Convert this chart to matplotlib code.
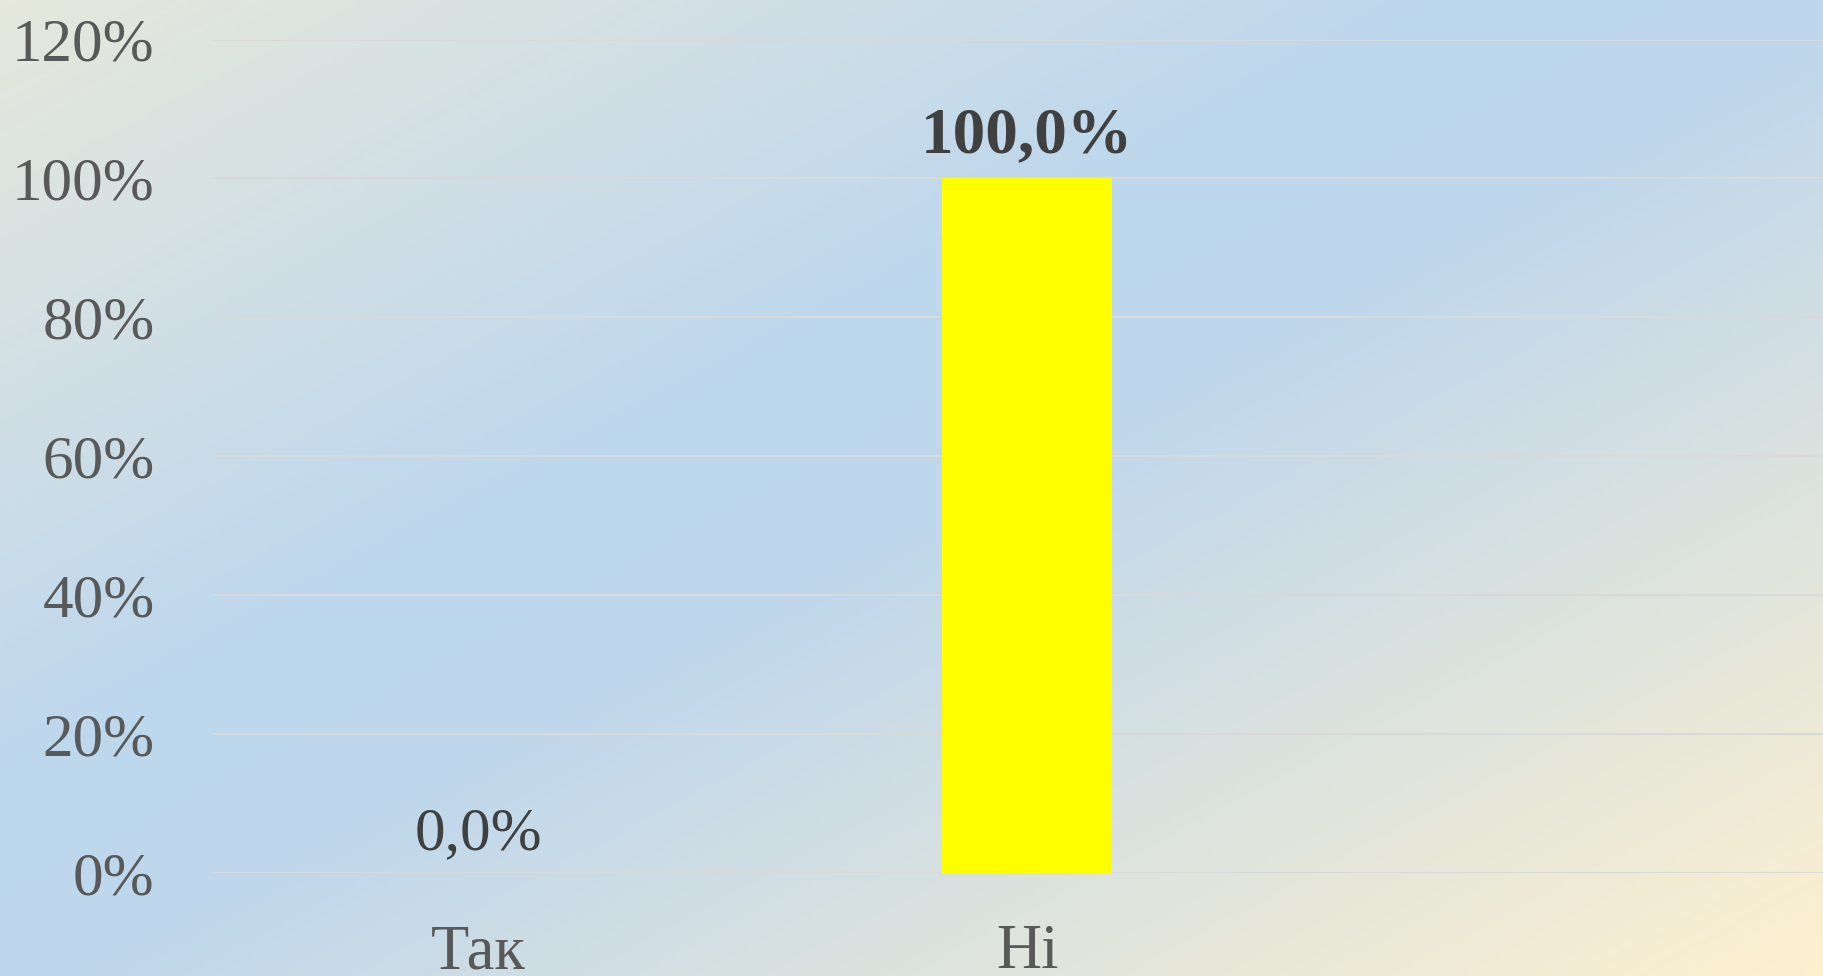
import numpy as np
import matplotlib
matplotlib.use("Agg")
import matplotlib.pyplot as plt
from matplotlib.colors import LinearSegmentedColormap

categories = ["Так", "Ні"]
values = [0.0, 100.0]
y_ticks = [0, 20, 40, 60, 80, 100, 120]

bar_color = "#FFFF00"
tick_color = "#595959"
label_color = "#404040"
grid_color = "#D9D9D9"

plt.rcParams["font.family"] = ["Liberation Serif", "DejaVu Serif"]


def fon(fig):
    # diagonal gradient: beige -> light blue -> cream
    bg = fig.add_axes([0, 0, 1, 1], zorder=0)
    w, h = 400, 214
    xx, yy = np.meshgrid(np.linspace(0, 1, w), np.linspace(0, 1, h))
    t = (xx + yy) / 2
    cmap = LinearSegmentedColormap.from_list(
        "fon",
        [(0.0, "#E6E8DC"), (0.40, "#BDD7EE"), (0.52, "#BFD7EC"), (1.0, "#FDF0CF")],
    )
    bg.imshow(t, cmap=cmap, aspect="auto", extent=[0, 1, 1, 0], vmin=0, vmax=1)
    bg.set_axis_off()


def graficar(filename="out.png"):
    fig = plt.figure(figsize=(18.23, 9.76), dpi=100)
    fon(fig)

    ax = fig.add_axes([0.1168, 0.1055, 0.8832, 0.854], zorder=1)
    ax.patch.set_alpha(0)

    x = np.arange(len(categories))
    ax.bar(x, values, width=0.31, color=bar_color, zorder=3)

    for xi, v in zip(x, values):
        texto = f"{v:.1f}%".replace(".", ",")
        if v == max(values):
            peso, tam, dy = "bold", 47, 19
        else:
            peso, tam, dy = "normal", 44, 17
        ax.annotate(texto, (xi, v), xytext=(0, dy), textcoords="offset points",
                    ha="center", va="baseline", fontsize=tam, color=label_color,
                    fontweight=peso, zorder=4)

    ax.set_xlim(-0.483, 2.45)
    ax.set_ylim(0, 120)
    ax.set_yticks(y_ticks)
    ax.set_yticklabels([f"{t}%" for t in y_ticks])
    ax.set_xticks(x)
    ax.set_xticklabels(categories)

    ax.tick_params(axis="y", length=0, pad=42, labelsize=44, labelcolor=tick_color)
    ax.tick_params(axis="x", length=0, pad=37, labelsize=45, labelcolor=tick_color)

    ax.grid(axis="y", color=grid_color, linewidth=1.5, zorder=1)
    ax.set_axisbelow(True)
    for s in ax.spines.values():
        s.set_visible(False)

    fig.savefig(filename, dpi=100)


def main():
    graficar()


if __name__ == "__main__":
    main()
